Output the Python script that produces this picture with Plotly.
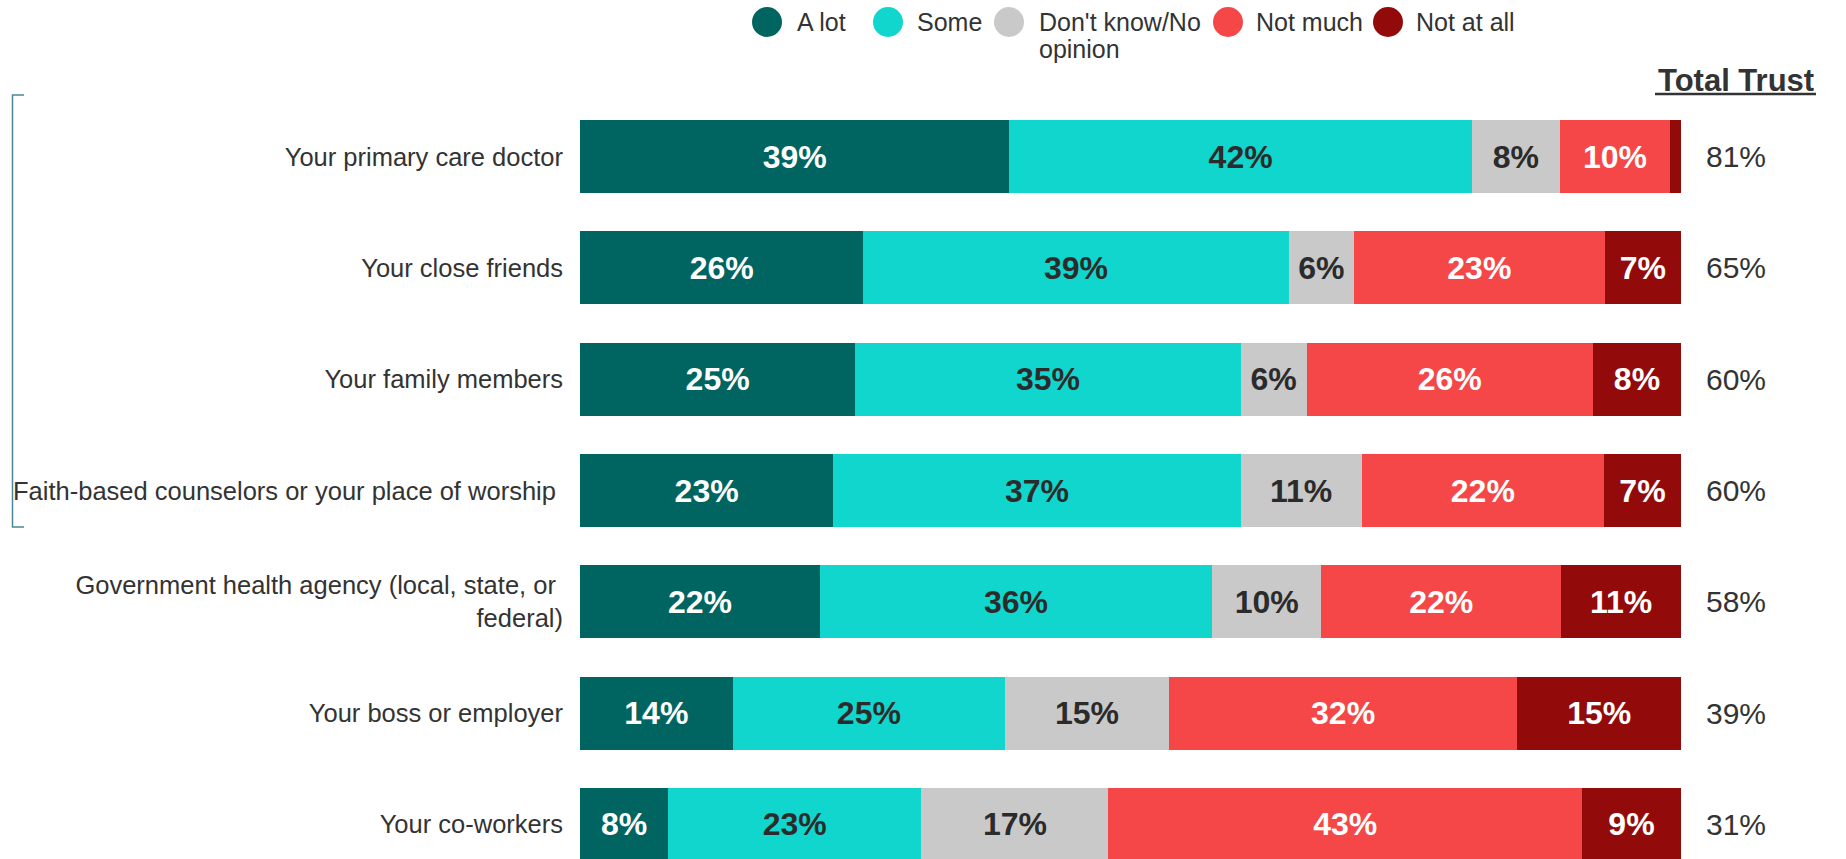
import plotly.graph_objects as go

# Survey rows, top to bottom
categories = [
    "Your primary care doctor",
    "Your close friends",
    "Your family members",
    "Faith-based counselors or your place of worship\u00a0",
    "Government health agency (local, state, or\u00a0<br>federal)",
    "Your boss or employer",
    "Your co-workers",
]

series_names = ["A lot", "Some", "Don't know/No<br>opinion", "Not much", "Not at all"]
a_lot = [39, 26, 25, 23, 22, 14, 8]
some = [42, 39, 35, 37, 36, 25, 23]
dont_know = [8, 6, 6, 11, 10, 15, 17]
not_much = [10, 23, 26, 22, 22, 32, 43]
not_at_all = [1, 7, 8, 7, 11, 15, 9]
total_trust = [81, 65, 60, 60, 58, 39, 31]

series_values = [a_lot, some, dont_know, not_much, not_at_all]
colors = ["#006461", "#10d6cd", "#c9c9c9", "#f54747", "#930a0a"]
text_colors = ["#ffffff", "#2b2b2b", "#2b2b2b", "#ffffff", "#ffffff"]

FONT = "Arial, 'Liberation Sans', sans-serif"
DARK = "#333333"

W, H = 1846, 859
M_L, M_R, M_T, M_B = 580, 165, 101, 0
PLOT_W = W - M_L - M_R
PLOT_H = H - M_T - M_B


def px_x(px):
    return (px - M_L) / PLOT_W


def px_y(py):
    return (H - M_B - py) / PLOT_H


fig = go.Figure()
for name, vals, col, tcol in zip(series_names, series_values, colors, text_colors):
    labels = [f"{v}%" if v >= 3 else "" for v in vals]
    fig.add_trace(go.Bar(
        name=name,
        y=categories,
        x=vals,
        orientation="h",
        marker=dict(color=col, line=dict(width=0)),
        text=labels,
        textposition="inside",
        insidetextanchor="middle",
        textangle=0,
        textfont=dict(family=FONT, size=32, color=tcol, weight="bold"),
        width=0.656,
        showlegend=False,
        hoverinfo="skip",
    ))

annotations = []
shapes = []

# Total trust column
for cat, tot in zip(categories, total_trust):
    annotations.append(dict(
        x=px_x(1736), xref="paper", y=cat, yref="y",
        text=f"{tot}%", showarrow=False, xanchor="center", yanchor="middle",
        font=dict(family=FONT, size=30, color=DARK),
    ))
annotations.append(dict(
    x=px_x(1736), xref="paper", y=px_y(80), yref="paper",
    text="<b>Total Trust</b>", showarrow=False, xanchor="center", yanchor="middle",
    font=dict(family=FONT, size=31, color=DARK),
))
shapes.append(dict(
    type="line", xref="paper", yref="paper",
    x0=px_x(1655), x1=px_x(1816), y0=px_y(94), y1=px_y(94),
    line=dict(color=DARK, width=2.5),
))

# Custom legend with large round keys
legend_circle_x = [767, 888, 1009, 1228, 1388]
legend_text_x = [795, 915, 1037, 1254, 1414]
legend_y = 22
legend_line_gap = 27
for name, col, cx, tx in zip(series_names, colors, legend_circle_x, legend_text_x):
    shapes.append(dict(
        type="circle", xref="paper", yref="paper",
        xsizemode="pixel", ysizemode="pixel",
        xanchor=px_x(cx), yanchor=px_y(legend_y),
        x0=-15, x1=15, y0=-15, y1=15,
        fillcolor=col, line=dict(width=0),
    ))
    for i, line in enumerate(name.split("<br>")):
        annotations.append(dict(
            x=px_x(tx), xref="paper",
            y=px_y(legend_y + i * legend_line_gap), yref="paper",
            text=line, showarrow=False, xanchor="left", yanchor="middle",
            font=dict(family=FONT, size=25, color=DARK),
        ))

# Bracket grouping the personal relationships
bx0, bx1 = px_x(24), px_x(12.5)
by0, by1 = px_y(95), px_y(527)
shapes.append(dict(
    type="path", xref="paper", yref="paper",
    path=f"M {bx0},{by0} L {bx1},{by0} L {bx1},{by1} L {bx0},{by1}",
    line=dict(color="#4a8896", width=1.5),
))

fig.update_layout(
    width=W, height=H,
    margin=dict(l=M_L, r=M_R, t=M_T, b=M_B, pad=0),
    barmode="stack",
    barnorm="percent",
    plot_bgcolor="white",
    paper_bgcolor="white",
    font=dict(family=FONT, color=DARK),
    annotations=annotations,
    shapes=shapes,
    showlegend=False,
)
fig.update_xaxes(visible=False, range=[0, 100], fixedrange=True)
fig.update_yaxes(
    range=[6.31, -0.5],
    showgrid=False, showline=False, zeroline=False, ticks="",
    ticklabelstandoff=16,
    tickfont=dict(family=FONT, size=25.5, color=DARK),
)

fig.write_html("out.html")
